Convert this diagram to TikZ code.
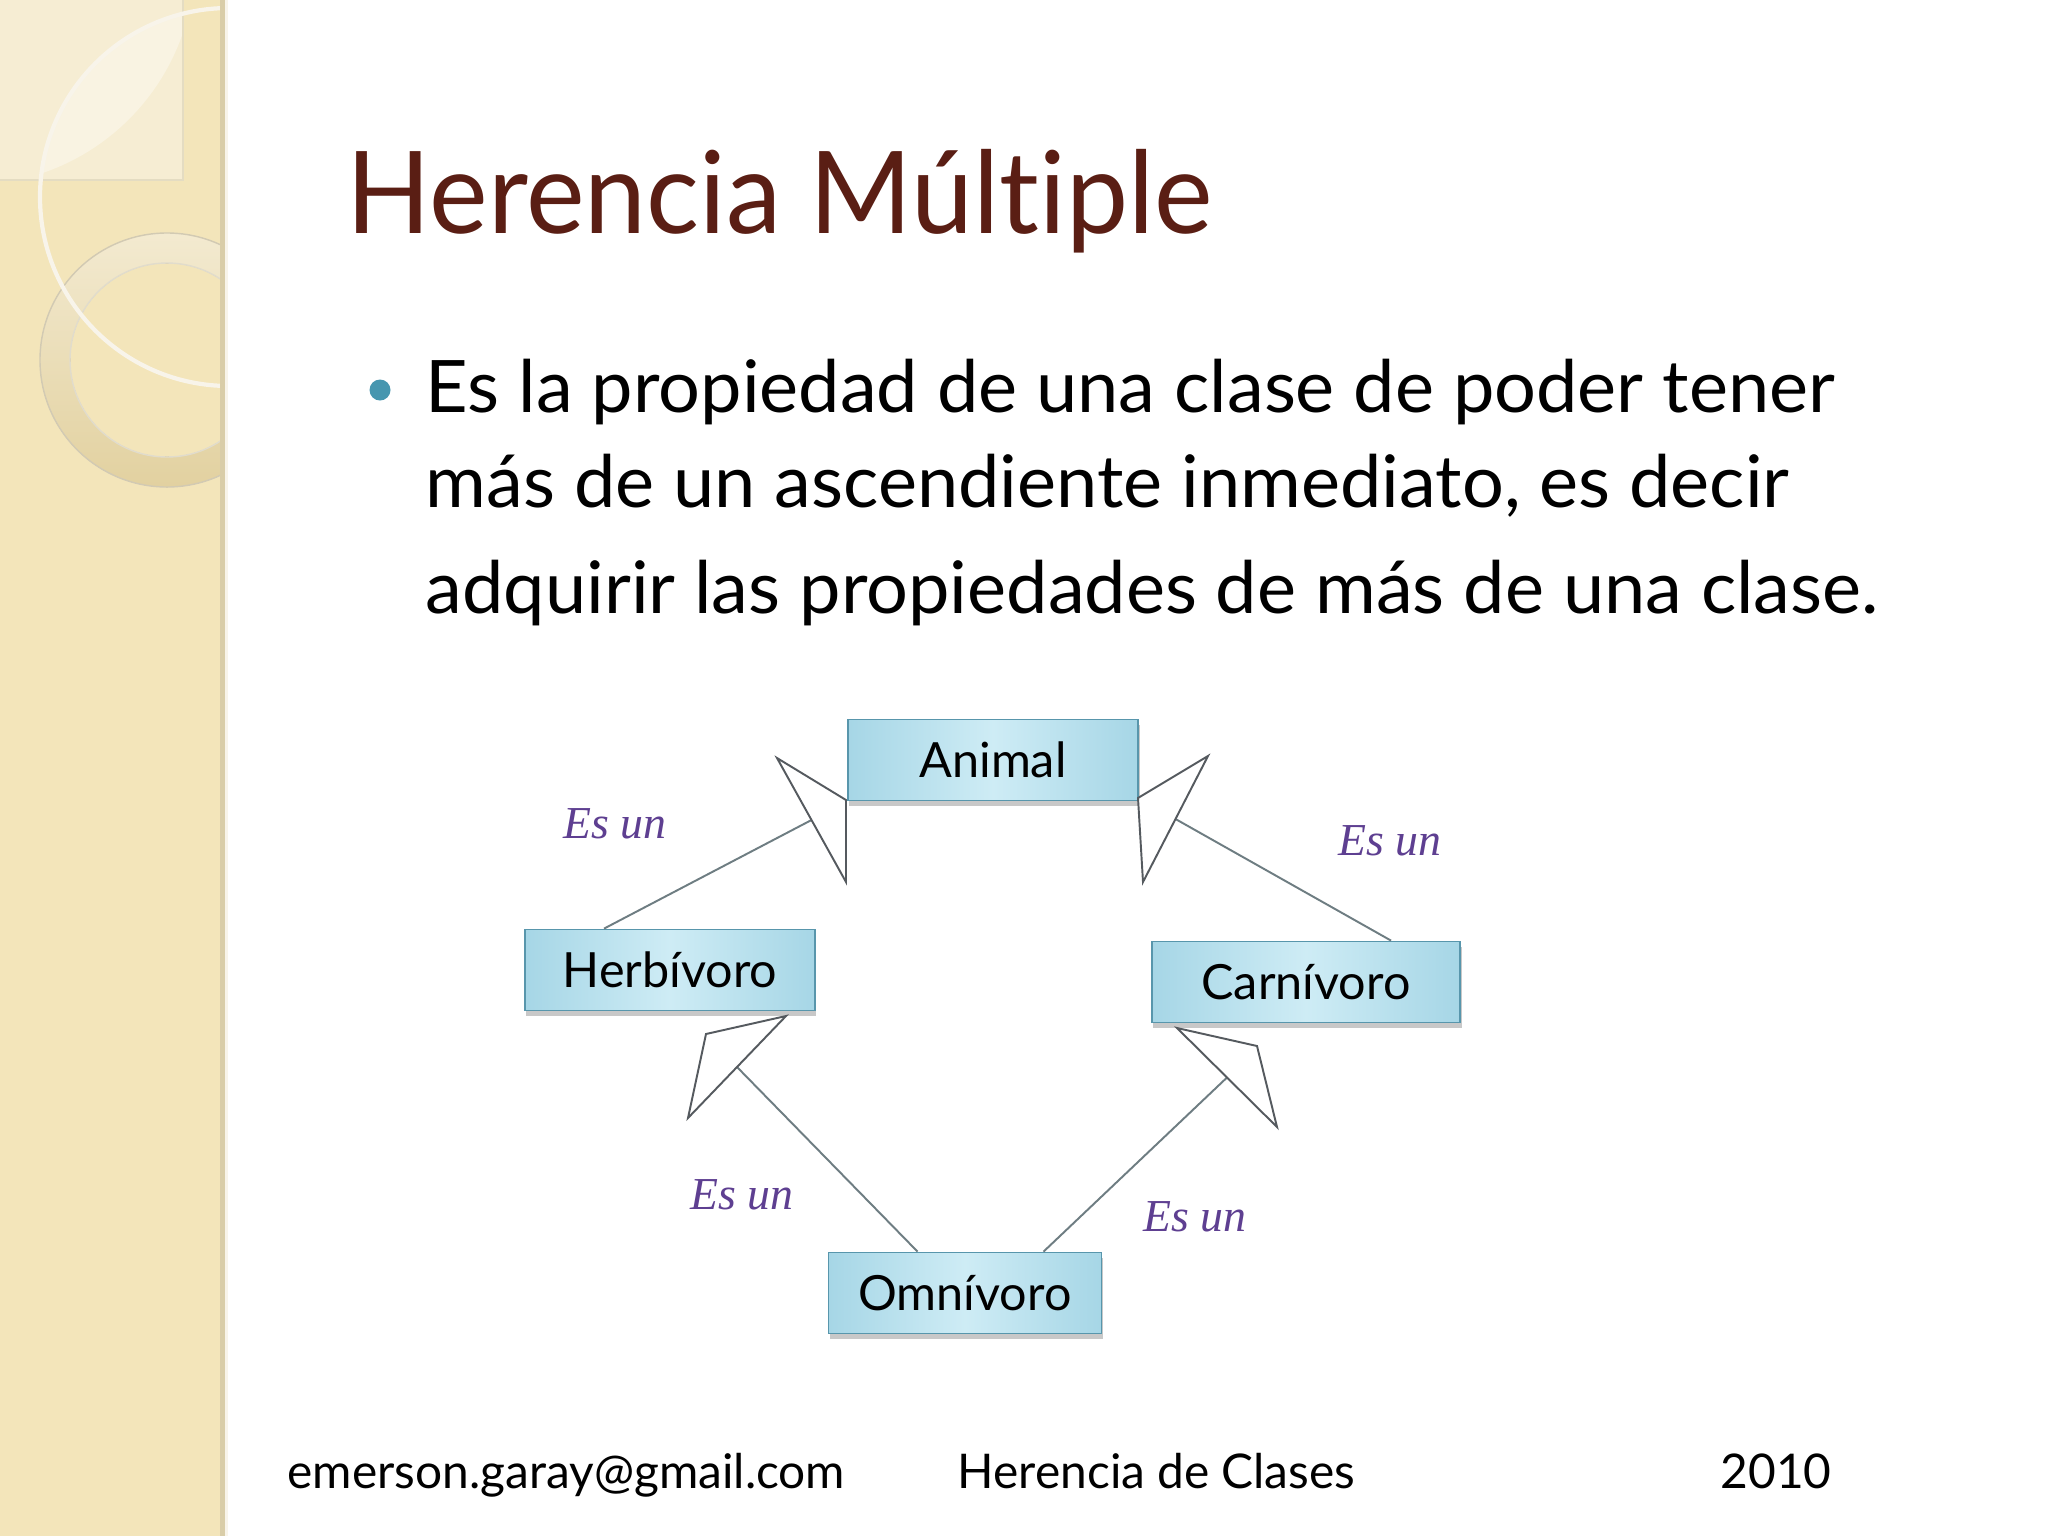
\documentclass[tikz,border=0pt]{standalone}
\usepackage{fontspec}
\setmainfont{Lato}[Ligatures={NoCommon}]
\newfontfamily\titlefont{Lato}[FakeStretch=0.97, Ligatures={NoCommon}]
\newfontfamily\bodyfont{Lato}[FakeStretch=1.02, Ligatures={NoCommon}]
\newfontfamily\esfont{Liberation Serif}
\usetikzlibrary{shadows,calc}
\definecolor{sidebg}{RGB}{243,229,186}
\definecolor{sidelight}{RGB}{246,237,211}
\definecolor{sidelens}{RGB}{249,243,226}
\definecolor{sidestripe}{RGB}{217,205,168}
\definecolor{sideedge}{RGB}{248,244,234}
\definecolor{ringtop}{RGB}{243,234,208}
\definecolor{ringbot}{RGB}{226,209,160}
\definecolor{titlecol}{RGB}{90,30,20}
\definecolor{bulletcol}{RGB}{70,150,175}
\definecolor{boxedge}{RGB}{166,214,230}
\definecolor{boxmid}{RGB}{206,236,245}
\definecolor{boxborder}{RGB}{88,150,172}
\definecolor{esuncol}{RGB}{94,63,145}
\definecolor{linecol}{RGB}{110,125,130}
\definecolor{headcol}{RGB}{85,90,95}
\begin{document}
\begin{tikzpicture}[x=0.01cm,y=-0.01cm,
  cls/.style={draw=boxborder, line width=0.5pt, left color=boxedge, right color=boxedge, middle color=boxmid,
    minimum width=2.9cm, minimum height=0.81cm, inner sep=0pt,
    font=\fontsize{13.8pt}{16pt}\selectfont,
    drop shadow={shadow xshift=0.4pt, shadow yshift=-1.6pt, opacity=0.3, fill=black!70}},
  esun/.style={text=esuncol, font=\esfont\itshape\fontsize{13pt}{15pt}\selectfont, inner sep=0pt},
  conn/.style={draw=linecol, line width=0.55pt},
  arrowhd/.style={draw=headcol, line width=0.55pt, fill=white, line join=miter},
  txt/.style={anchor=base west, inner sep=0pt},
  body/.style={anchor=base west, inner sep=0pt, font=\bodyfont\fontsize{20.6pt}{24pt}\selectfont},
  foot/.style={anchor=base west, inner sep=0pt, font=\fontsize{13.6pt}{16pt}\selectfont}]
\useasboundingbox (0,0) rectangle (2048,1536);
\fill[white] (0,0) rectangle (2048,1536);
% sidebar
\fill[sidebg] (0,0) rectangle (220,1536);
\begin{scope}
  \clip (0,0) rectangle (220,1536);
  \fill[sidelight] (0,0) rectangle (183,180);
  \begin{scope}
    \clip (0,0) rectangle (183,180);
    \clip (229,197) circle (189);
    \fill[sidelens] (-30,-40) circle (225);
  \end{scope}
  \draw[sidestripe!70, line width=0.4pt] (0,180) -- (183,180) -- (183,0);
  \fill[even odd rule, top color=ringtop, bottom color=ringbot] (167,360) circle (127) (167,360) circle (97);
  \draw[ringbot!80!black!60, line width=0.4pt] (167,360) circle (127);
  \draw[ringbot!80!black!40, line width=0.4pt] (167,360) circle (97);
  \draw[sideedge, line width=1.2pt] (229,197) circle (189);
\end{scope}
\fill[sidestripe] (220,0) rectangle (225,1536);
\fill[sideedge] (225,0) rectangle (228,1536);
% title
\node[txt, text=titlecol, font=\titlefont\fontsize{32.5pt}{38pt}\selectfont] (title) at (346,233) {Herencia Múltiple};
% bullet
\fill[bulletcol] (380,390) circle (10.5);
\node[body] (l1) at (425,412) {Es la propiedad de una clase de poder tener};
\node[body] (l2) at (425,507) {más de un ascendiente inmediato, es decir};
\node[body] (l3) at (425,613) {adquirir las propiedades de más de una clase.};
% class boxes
\node[cls] (animal) at (993,760) {Animal};
\node[cls] (herb) at (670,970) {Herbívoro};
\node[cls, minimum width=3.08cm] (carn) at (1306,982) {Carnívoro};
\node[cls, minimum width=2.73cm] (omni) at (965,1293) {Omnívoro};
% arrowheads
\coordinate (a1t) at (777,758); \coordinate (a1m) at (846,800); \coordinate (a1b) at (846,882);
\coordinate (a2t) at (1208,756); \coordinate (a2m) at (1138,798); \coordinate (a2b) at (1143,882);
\coordinate (a3t) at (786,1016); \coordinate (a3m) at (706,1034); \coordinate (a3b) at (688,1118);
\coordinate (a4t) at (1177,1028); \coordinate (a4m) at (1257,1046); \coordinate (a4b) at (1277,1127);
\draw[conn] ($(herb.north west)+(80,0)$) -- ($(a1t)!0.5!(a1b)$);
\draw[conn] ($(carn.north west)+(240,0)$) -- ($(a2t)!0.5!(a2b)$);
\draw[conn] ($(omni.north west)+(90,0)$) -- ($(a3t)!0.5!(a3b)$);
\draw[conn] ($(omni.north west)+(216,0)$) -- ($(a4t)!0.5!(a4b)$);
\draw[arrowhd] (a1t) -- (a1m) -- (a1b) -- cycle;
\draw[arrowhd] (a2t) -- (a2m) -- (a2b) -- cycle;
\draw[arrowhd] (a3t) -- (a3m) -- (a3b) -- cycle;
\draw[arrowhd] (a4t) -- (a4m) -- (a4b) -- cycle;
% labels
\node[esun] (e1) at (615,824) {Es un};
\node[esun] (e2) at (1390,841) {Es un};
\node[esun] (e3) at (742,1195) {Es un};
\node[esun] (e4) at (1195,1217) {Es un};
% footer
\node[foot] (f1) at (287,1488) {emerson.garay@gmail.com};
\node[foot] (f2) at (957,1488) {Herencia de Clases};
\node[foot] (f3) at (1720,1488) {2010};
\end{tikzpicture}
\end{document}
